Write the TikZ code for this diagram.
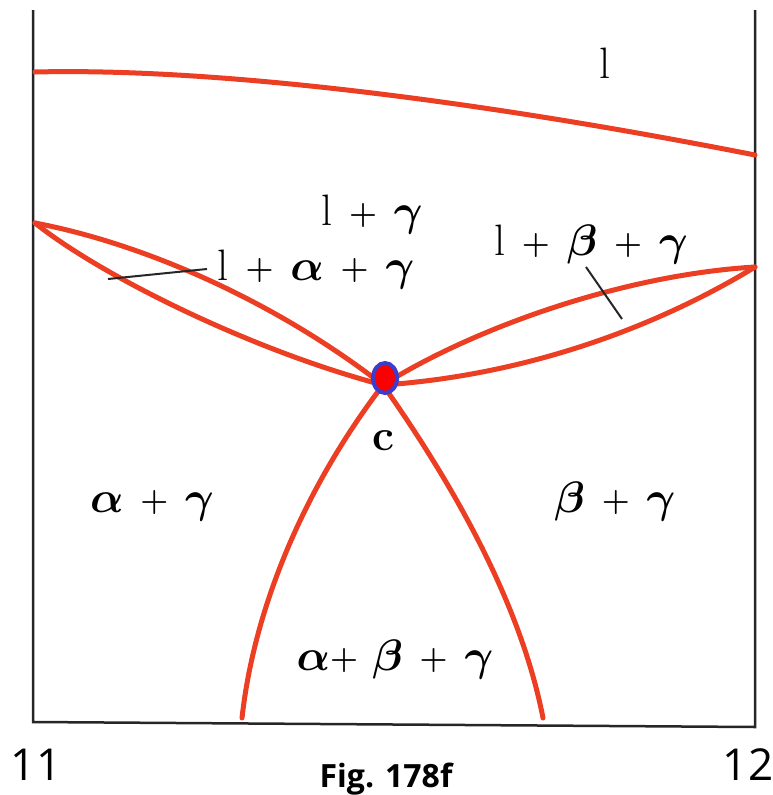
\RequirePackage{fix-cm}
\documentclass[tikz,border=0pt]{standalone}
\usepackage{fontspec}
\usetikzlibrary{shapes.geometric}
\newfontfamily\labsans{Open Sans}
\definecolor{phred}{RGB}{236,62,34}
\definecolor{dotblue}{RGB}{60,60,205}
\definecolor{dotred}{RGB}{250,0,0}
\newcommand{\plsign}{\raise2pt\hbox{\fontsize{32}{32}\selectfont$+$}}
\newcommand{\pp}{\mskip 2mu\mathbin{\plsign}\mskip 2mu}
\newcommand{\liqL}{\textnormal{l}}
\begin{document}
\begin{tikzpicture}[x=1pt,y=-1pt,
  phase/.style={draw=phred,line width=5pt,line cap=round},
  frame/.style={draw=black!85,line width=2.5pt},
  leader/.style={draw=black!85,line width=2pt},
  lab/.style={inner sep=0pt,anchor=base,font=\fontsize{44}{46}\selectfont\boldmath},
  axlab/.style={inner sep=0pt,font=\labsans\fontsize{44}{46}\selectfont}]
\useasboundingbox (0,0) rectangle (772,795);
% frame
\coordinate (tl) at (33,10);
\coordinate (bl) at (33,722);
\coordinate (br) at (755,727);
\coordinate (tr) at (755,10);
\draw[frame] (tl) -- (bl) -- (br) -- (tr);
% phase points
\coordinate (c) at (383,385);
\coordinate (ltop) at (35,72);
\coordinate (rtop) at (755,155);
\coordinate (lens1) at (35,223);
\coordinate (lens2) at (755,267);
\coordinate (b1) at (242,718);
\coordinate (b2) at (543,718);
% curves
\draw[phase] (ltop) .. controls (200,68) and (450,95) .. (rtop);
\draw[phase] (lens1) .. controls (150,245) and (280,305) .. (c);
\draw[phase] (lens1) .. controls (100,275) and (250,350) .. (c);
\draw[phase] (c) .. controls (470,330) and (620,275) .. (lens2);
\draw[phase] (c) .. controls (530,375) and (660,325) .. (lens2);
\draw[phase] (c) .. controls (310,480) and (255,600) .. (b1);
\draw[phase] (c) .. controls (450,480) and (520,600) .. (b2);
% dot
\node[ellipse,minimum width=24pt,minimum height=30pt,inner sep=0pt,fill=dotred,draw=dotblue,line width=4pt] (dot) at (385,378) {};
% labels
\node[lab] (lL) at (605,78) {$\liqL$};
\node[lab] (lLg) at (372,225) {$\liqL\pp\gamma$};
\node[lab] (lLag) at (316,280) {$\liqL\pp\alpha\pp\gamma$};
\node[lab] (lLbg) at (591,255) {$\liqL\pp\beta\pp\gamma$};
\node[lab] (lc) at (383,450) {$\textnormal{\bfseries c}$};
\node[lab] (lag) at (152,512) {$\alpha\pp\gamma$};
\node[lab] (lbg) at (615,512) {$\beta\pp\gamma$};
\node[lab] (labg) at (395,670) {$\alpha{\plsign}\;\beta\pp\gamma$};
\coordinate (la1) at (108,279);
\coordinate (la2) at (207,269);
\draw[leader] (la1) -- (la2);
\coordinate (lb1) at (586,267);
\coordinate (lb2) at (622,319);
\draw[leader] (lb1) -- (lb2);
\node[axlab] (n11) at (36,765) {11};
\node[axlab] (n12) at (748,765) {12};
\node[inner sep=0pt,font=\labsans\bfseries\fontsize{32}{34}\selectfont,anchor=base] (fig) at (386,787) {Fig. 178f};
\end{tikzpicture}
\end{document}
